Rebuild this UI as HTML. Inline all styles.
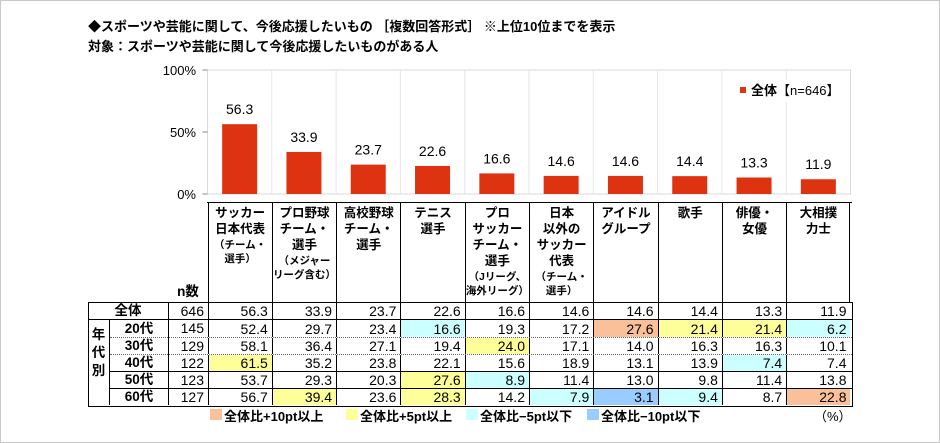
<!DOCTYPE html>
<html><head><meta charset="utf-8"><style>
body{margin:0;background:#fff;}
#root{position:relative;width:940px;height:443px;overflow:hidden;font-family:"Liberation Sans","Noto Sans CJK JP",sans-serif;color:#000;}
.abs{position:absolute;}
.t{font-weight:bold;font-size:13px;white-space:nowrap;}
.hd{position:absolute;top:203px;height:99px;border-left:1.5px solid #000;font-weight:bold;font-size:12.5px;line-height:16px;text-align:center;box-sizing:border-box;padding-top:2px;}
.hd small{font-size:10.5px;line-height:14px;display:block;}
.cell{position:absolute;font-size:14px;text-align:right;box-sizing:border-box;padding-right:4px;}
.lab{position:absolute;font-size:13.5px;font-weight:bold;text-align:center;}
.sw{position:absolute;top:409px;width:12px;height:11px;}
.lt{position:absolute;top:406px;font-size:13px;font-weight:bold;white-space:nowrap;}
</style></head><body>
<div id="root">
<div class="abs" style="left:0;top:0;width:938px;height:441px;border:1px solid #c8c8c8;"></div>
<div class="abs t" style="left:88px;top:16px;">◆スポーツや芸能に関して、今後応援したいもの ［複数回答形式］ ※上位10位までを表示</div>
<div class="abs t" style="left:88px;top:36px;">対象：スポーツや芸能に関して今後応援したいものがある人</div>
<svg class="abs" style="left:0;top:0" width="940" height="443" id="plot"></svg>
<div class="abs" style="left:736px;top:80px;width:112px;height:22px;background:#fff;font-size:13px;line-height:22px;white-space:nowrap;"><span style="display:inline-block;width:6px;height:6px;background:#dd3311;margin:0 5px 2px 4px;"></span><b>全体</b>【n=646】</div>
<div id="table"></div>
<div class="sw" style="left:210px;background:#f9c09a"></div>
<div class="lt" style="left:224px">全体比+10pt以上</div>
<div class="sw" style="left:346px;background:#ffff99"></div>
<div class="lt" style="left:360px">全体比+5pt以上</div>
<div class="sw" style="left:466px;background:#ccffff"></div>
<div class="lt" style="left:480px">全体比−5pt以下</div>
<div class="sw" style="left:587px;background:#99ccff"></div>
<div class="lt" style="left:601px">全体比−10pt以下</div>
<div class="lt" style="left:814px;font-weight:normal">（%）</div>
</div>
<script>
const categories=["サッカー日本代表","プロ野球","高校野球","テニス","プロサッカー","日本以外のサッカー代表","アイドルグループ","歌手","俳優・女優","大相撲力士"];
const totalValues=[56.3,33.9,23.7,22.6,16.6,14.6,14.6,14.4,13.3,11.9];
const yTicks=[0,50,100];
const yTickLabels=["0%","50%","100%"];
const rowLabels=["全体","20代","30代","40代","50代","60代"];
const rowN=[646,145,129,122,123,127];
const age20=[52.4,29.7,23.4,16.6,19.3,17.2,27.6,21.4,21.4,6.2];
const age30=[58.1,36.4,27.1,19.4,24.0,17.1,14.0,16.3,16.3,10.1];
const age40=[61.5,35.2,23.8,22.1,15.6,18.9,13.1,13.9,7.4,7.4];
const age50=[53.7,29.3,20.3,27.6,8.9,11.4,13.0,9.8,11.4,13.8];
const age60=[56.7,39.4,23.6,28.3,14.2,7.9,3.1,9.4,8.7,22.8];
const headers=[
 ["サッカー<br>日本代表","<small>（チーム・<br>選手）</small>"],
 ["プロ野球<br>チーム・<br>選手","<small>（メジャー<br>リーグ含む）</small>"],
 ["高校野球<br>チーム・<br>選手",""],
 ["テニス<br>選手",""],
 ["プロ<br>サッカー<br>チーム・<br>選手","<small>（Jリーグ、<br>海外リーグ）</small>"],
 ["日本<br>以外の<br>サッカー<br>代表","<small>（チーム・<br>選手）</small>"],
 ["アイドル<br>グループ",""],["歌手",""],["俳優・<br>女優",""],["大相撲<br>力士",""]];
const X0=207.5,CW=64.3,Y0=194,PH=124;
const xs=i=>X0+CW*i, ys=v=>Y0-v/100*PH;
const NS="http://www.w3.org/2000/svg",svg=document.getElementById('plot');
function mk(t,a){const e=document.createElementNS(NS,t);for(const k in a)e.setAttribute(k,a[k]);svg.appendChild(e);return e;}
let r=mk('rect',{x:X0,y:ys(100),width:CW*10,height:PH,fill:'none',stroke:'#d9d9d9'});

for(let i=1;i<10;i++){const l=mk('line',{x1:xs(i),x2:xs(i),y1:ys(100),y2:Y0,stroke:'#e6e6e6'});}
yTicks.forEach((v,i)=>{const l=mk('line',{x1:X0-5,x2:X0,y1:ys(v),y2:ys(v),stroke:'#888'});
 const t=mk('text',{x:196,y:ys(v)+5,'text-anchor':'end','font-size':'13','font-family':'Liberation Sans, sans-serif'});t.textContent=yTickLabels[i];});
totalValues.forEach((v,i)=>{const bw=35,cx=xs(i)+CW/2;
 const b=mk('rect',{x:cx-bw/2,y:ys(v),width:bw,height:Y0-ys(v),fill:'#dd3311'});
 const t=mk('text',{x:cx,y:ys(v)-10,'text-anchor':'middle','font-size':'14','font-family':'Liberation Sans, sans-serif'});t.textContent=v.toFixed(1);});
const tb=document.getElementById('table');
function div(cls,st,html){const d=document.createElement('div');d.className=cls;d.style.cssText=st;d.innerHTML=html;tb.appendChild(d);return d;}
headers.forEach((h,i)=>{const d=div('hd',`left:${xs(i)}px;width:${CW}px;${i==9?'border-right:1.5px solid #000;':''}`,h[0]+(h[1]?'<div style="margin-top:1px">'+h[1]+'</div>':''));
 });
let hl=div('abs','left:207px;top:202px;width:645px;height:0;border-top:1.5px solid #000','');
let nl=div('lab','left:168px;top:283px;width:40px;line-height:18px;','n数');
const rowsY=[302,319,337,354,371,388,405];
const ages=[totalValues,age20,age30,age40,age50,age60];
function color(v,base){const d=v-base;if(d>=10)return '#f9c09a';if(d>=5)return '#ffff99';if(d<=-10)return '#99ccff';if(d<=-5)return '#ccffff';return '';}
let box=div('abs','left:88px;top:302px;width:763px;height:103px;border:1.5px solid #000;','');
ages.forEach((arr,ri)=>{const y=rowsY[ri],h=rowsY[ri+1]-y;
 if(ri>0){const bs=(ri==2||ri==3)?'1px dotted #666':'1.5px solid #000';const ln=div('abs',`left:${ri==1?88:110}px;top:${y}px;width:${ri==1?764:742}px;border-top:${bs}`,'');}
 const lab=div('lab',`left:${ri==0?88:110}px;top:${y}px;width:${ri==0?80:58}px;height:${h}px;line-height:${h+1}px`,rowLabels[ri]);
 const n=div('cell',`left:168px;top:${y}px;width:40px;height:${h}px;line-height:${h+1}px;border-left:1.5px solid #000`,rowN[ri]);
 arr.forEach((v,ci)=>{const bg=ri==0?'':color(v,totalValues[ci]);
  const c=div('cell',`left:${xs(ci)}px;top:${y+1}px;width:${CW}px;height:${h-1}px;line-height:${h}px;border-left:1.5px solid #000;${bg?'background:'+bg:''}`,v.toFixed(1));});});
let ag=div('lab','left:88px;top:319px;width:22px;line-height:18px;border-right:1.5px solid #000;height:86px;padding-top:7px;box-sizing:border-box','年<br>代<br>別');
</script>
</body></html>
